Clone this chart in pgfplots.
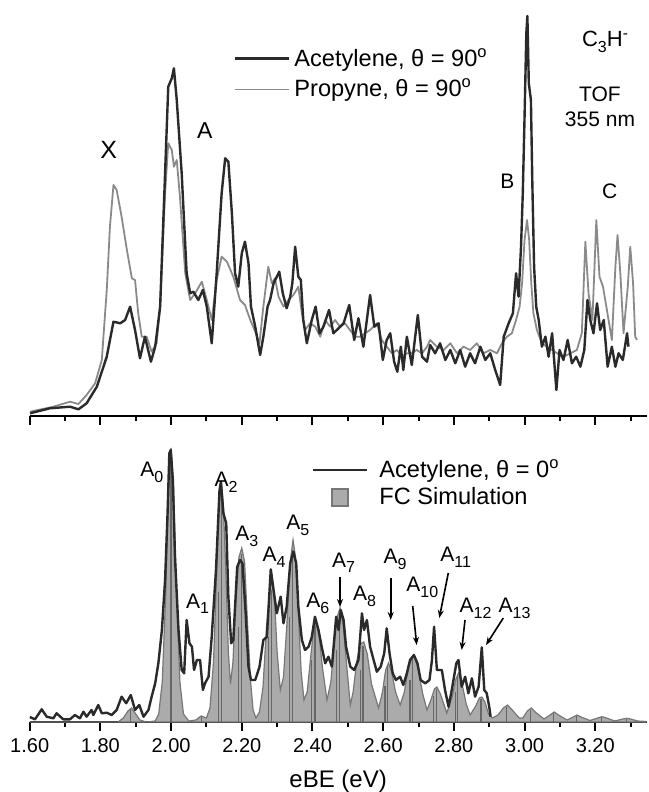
\documentclass[border=0pt]{standalone}
\usepackage{fontspec}
\setmainfont{Liberation Sans}
\usepackage{pgfplots}
\pgfplotsset{compat=1.18}
\usetikzlibrary{arrows.meta}
\definecolor{cDark}{HTML}{2A2A2A}
\definecolor{cLight}{HTML}{8A8A8A}
\definecolor{cFill}{HTML}{ABABAB}
\definecolor{cEdge}{HTML}{777777}
\definecolor{cStick}{HTML}{666666}

\pgfplotsset{
  spec/.style={
    scale only axis, width=308.4pt, xmin=1.6, xmax=3.345, ymin=0,
    axis x line*=bottom, axis y line=none,
    axis line style={line width=1pt,-},
    xtick={1.6,1.8,2.0,2.2,2.4,2.6,2.8,3.0,3.2},
    minor xtick={1.7,1.9,2.1,2.3,2.5,2.7,2.9,3.1,3.3},
    tick align=outside, major tick length=4.5pt, minor tick length=2.5pt,
    every tick/.style={line width=1pt,black},
    /pgf/number format/assume math mode=true,
  },
}
\tikzset{lab/.style={font=\fontsize{10.5}{12}\selectfont}}
\newcommand{\sub}[1]{\raisebox{-0.5ex}{\fontsize{8}{9}\selectfont #1}}

\begin{document}
\begin{tikzpicture}
\path[use as bounding box] (0,0) rectangle (324pt,396pt);

% upper panel: theta = 90
\begin{axis}[spec, at={(14.85pt,188pt)}, anchor=south west,
    height=208pt, ymax=416, xticklabels={}]
\addplot[cLight, line width=0.9pt, line join=round] table {
1.601 4.3
1.667 9.3
1.714 14.3
1.738 12
1.761 21
1.785 32.7
1.804 56
1.818 126
1.827 189.3
1.837 231
1.846 226
1.860 199.3
1.875 166
1.889 137.7
1.898 136
1.907 102.7
1.917 79.3
1.931 79.3
1.945 64.3
1.959 72.7
1.969 109.3
1.983 222.7
1.992 272.7
2.002 266
2.008 249.3
2.016 256
2.025 219.3
2.040 142.7
2.054 116
2.068 122.7
2.087 134.3
2.101 116
2.115 96
2.129 136
2.143 159.3
2.158 154.3
2.176 139.3
2.195 116
2.209 111
2.224 96
2.238 84.3
2.250 72.7
2.261 109.3
2.275 149.3
2.285 132.7
2.294 137.7
2.304 119.3
2.318 109.3
2.332 116
2.346 121
2.360 129.3
2.370 102.7
2.379 86
2.393 92.7
2.408 89.3
2.422 79.3
2.436 96
2.450 89.3
2.464 96
2.478 89.3
2.492 92.7
2.506 86
2.521 79.3
2.535 79.3
2.549 82.7
2.563 86
2.582 92.7
2.596 76
2.610 69.3
2.625 62.7
2.639 66
2.653 59.3
2.667 62.7
2.681 62.7
2.695 66
2.710 62.7
2.724 69.3
2.733 76
2.752 69.3
2.771 66
2.790 72.7
2.809 62.7
2.827 69.3
2.846 66
2.865 72.7
2.884 62.7
2.903 66
2.922 62.7
2.936 72.7
2.950 79.3
2.964 82.7
2.976 96
2.986 109.3
2.993 132.7
3.000 176
3.007 196
3.013 176
3.019 132.7
3.025 102.7
3.035 86
3.049 72.7
3.063 69.3
3.078 66
3.092 62.7
3.110 59.3
3.129 62.7
3.148 66
3.162 82.7
3.172 174.3
3.181 122.7
3.192 96
3.203 196
3.212 139.3
3.222 129.3
3.233 106
3.247 76
3.257 149.3
3.263 181
3.271 142.7
3.280 82.7
3.292 129.3
3.299 169.3
3.307 132.7
3.313 79.3
3.318 76
};
\addplot[cDark, line width=1.2pt, line join=round] table {
1.601 2.7
1.657 7.7
1.714 9.3
1.738 6.7
1.761 12.7
1.790 29.3
1.818 59.3
1.837 94.3
1.856 92.7
1.870 96
1.884 109.3
1.898 86
1.912 57.7
1.926 79.3
1.943 54.3
1.955 69.3
1.969 109.3
1.983 242.7
1.992 329.3
2.002 337.7
2.008 347.7
2.016 316
2.030 242.7
2.044 142.7
2.054 122.7
2.063 124.3
2.077 116
2.090 126
2.101 109.3
2.115 72.7
2.129 142.7
2.143 222.7
2.153 257.7
2.162 254.3
2.172 202.7
2.181 142.7
2.190 129.3
2.200 162.7
2.209 174.3
2.219 152.7
2.226 109.3
2.238 89.3
2.252 61
2.261 79.3
2.273 109.3
2.280 116
2.290 132.7
2.306 144.3
2.316 122.7
2.327 107.7
2.337 119.3
2.343 132.7
2.351 169.3
2.360 139.3
2.367 136
2.374 96
2.384 72.7
2.398 96
2.409 109.3
2.420 82.7
2.431 89.3
2.447 106
2.459 82.7
2.474 87.7
2.488 92.7
2.504 111
2.518 76
2.530 97.7
2.544 69.3
2.563 121
2.575 89.3
2.587 92.7
2.599 56
2.610 76
2.620 82.7
2.631 54.3
2.640 44.3
2.650 69.3
2.657 46
2.667 79.3
2.681 51
2.698 101
2.710 59.3
2.724 54.3
2.733 71
2.747 62.7
2.761 72.7
2.776 56
2.790 66
2.804 52.7
2.818 66
2.832 49.3
2.846 62.7
2.860 52.7
2.875 69.3
2.889 56
2.903 62.7
2.917 46
2.931 31
2.941 79.3
2.955 92.7
2.967 102.7
2.976 142.7
2.983 119.3
2.990 169.3
2.995 222.7
3.000 299.3
3.005 382.7
3.008 400
3.012 332.7
3.018 316
3.022 232.7
3.027 149.3
3.033 109.3
3.040 96
3.049 69.3
3.059 79.3
3.068 59.3
3.078 82.7
3.090 26
3.099 66
3.110 56
3.122 76
3.134 52.7
3.146 59.3
3.158 49.3
3.169 66
3.178 116
3.186 96
3.195 82.7
3.205 112.7
3.214 86
3.224 96
3.235 49.3
3.247 69.3
3.257 49.3
3.266 62.7
3.278 56
3.290 82.7
3.294 69.3
};
\end{axis}

% lower panel: theta = 0 and FC simulation
\begin{axis}[spec, at={(14.85pt,35pt)}, anchor=south west,
    height=140pt, ymax=280,
    xticklabel style={font=\fontsize{10}{12}\selectfont,
      /pgf/number format/.cd, fixed, fixed zerofill, precision=2},
    xlabel={eBE (eV)},
    xlabel style={font=\fontsize{12}{14}\selectfont, yshift=-2pt}]
\addplot[fill=cFill, draw=cEdge, line width=0.6pt] table {
1.600 0
1.850 0
1.865 4
1.878 11
1.888 14
1.898 9
1.912 2
1.930 0
1.955 1
1.965 8
1.975 40
1.985 130
1.993 235
2.000 274
2.007 235
2.015 130
2.025 40
2.035 8
2.050 1
2.070 2
2.085 6
2.100 4
2.110 14
2.120 60
2.130 160
2.136 215
2.142 240
2.148 215
2.155 150
2.162 70
2.168 38
2.175 60
2.183 120
2.192 165
2.200 174
2.208 160
2.216 100
2.225 40
2.232 12
2.240 4
2.250 10
2.260 35
2.270 95
2.280 135
2.286 140
2.293 120
2.300 70
2.309 32
2.318 45
2.328 100
2.337 160
2.345 182
2.352 165
2.360 110
2.368 50
2.376 22
2.385 30
2.395 65
2.403 92
2.410 100
2.418 90
2.428 55
2.441 22
2.452 40
2.462 80
2.470 105
2.478 114
2.486 100
2.496 60
2.507 17
2.515 30
2.525 60
2.535 78
2.545 80
2.555 68
2.567 38
2.587 14
2.598 30
2.607 52
2.615 59
2.624 50
2.635 30
2.648 17
2.660 30
2.672 55
2.686 67
2.698 55
2.712 28
2.724 12
2.735 22
2.745 33
2.752 35
2.762 28
2.780 9
2.795 25
2.805 42
2.813 49
2.822 40
2.835 18
2.846 7
2.862 16
2.872 24
2.879 25
2.888 20
2.898 8
2.909 4
2.925 7
2.940 14
2.952 17
2.965 12
2.985 4
2.995 4
3.008 11
3.019 14
3.030 10
3.055 3
3.072 7
3.084 10
3.096 7
3.120 2
3.138 5
3.148 7
3.160 5
3.185 1.5
3.207 4
3.219 5.3
3.232 4
3.255 1
3.278 3
3.290 3.7
3.300 3
3.320 1
3.345 0.5
} \closedcycle;
\addplot[ycomb, cStick, line width=0.6pt, mark=none] table {
1.885 13
2.000 262
2.085 5
2.133 130
2.142 228
2.190 95
2.200 168
2.275 85
2.283 132
2.335 105
2.343 172
2.398 62
2.407 96
2.468 72
2.476 108
2.535 52
2.543 76
2.605 36
2.613 56
2.676 42
2.684 63
2.742 26
2.750 33
2.805 30
2.811 46
2.877 23
2.950 15
3.017 12
3.083 9
3.147 6
3.218 5
3.288 3
};
\addplot[cDark, line width=1.2pt, line join=round] table {
1.600 5
1.615 2.7
1.634 12.7
1.648 5.3
1.667 3.7
1.676 8.7
1.695 2.7
1.714 2.7
1.728 7
1.742 3.7
1.752 10.3
1.761 5.3
1.775 12
1.780 7
1.794 17
1.804 8.7
1.818 9.3
1.832 7
1.846 12
1.860 25.3
1.873 18.7
1.886 27
1.898 12
1.910 17
1.922 5.3
1.936 12
1.945 25.3
1.955 38.7
1.964 58.7
1.974 92
1.983 142
1.990 208.7
1.995 268.7
1.999 272
2.005 242
2.011 165.3
2.021 92
2.030 52
2.037 48.7
2.044 102
2.052 78.7
2.059 75.3
2.065 52
2.073 62
2.082 62
2.090 32
2.096 38.7
2.106 45.3
2.115 85.3
2.127 152
2.137 232
2.141 240.3
2.148 208.7
2.156 198.7
2.162 125.3
2.170 78.7
2.176 82
2.187 155
2.195 162
2.202 158.7
2.211 108.7
2.219 55
2.226 42
2.238 42
2.250 55
2.261 82
2.271 85
2.282 152.7
2.290 132
2.299 108.7
2.310 125.3
2.318 98.7
2.327 115.3
2.337 158.7
2.346 170.3
2.354 158.7
2.360 115.3
2.370 82
2.379 72
2.389 75.3
2.398 85
2.407 105.3
2.417 92
2.426 75.3
2.436 58.7
2.445 65.3
2.455 55.3
2.467 105.3
2.474 92
2.480 112
2.488 102
2.495 75.3
2.507 55.3
2.518 52
2.530 62
2.540 108.7
2.546 92
2.554 102
2.563 75.3
2.573 62
2.582 50.3
2.593 55.3
2.603 68.7
2.610 93.7
2.618 68.7
2.627 48.7
2.636 42
2.648 45.3
2.657 37
2.667 48.7
2.676 62
2.687 67
2.697 58.7
2.706 42
2.719 38.7
2.731 42
2.738 62
2.744 95.3
2.752 52
2.766 52
2.775 32
2.785 15.3
2.794 32
2.807 58.7
2.813 62
2.822 35.3
2.832 45.3
2.841 28.7
2.851 43.7
2.860 25.3
2.870 35.3
2.879 74.7
2.886 32
2.893 28.7
2.900 15.3
2.904 5.3
};
\end{axis}

% annotations, in pixel units of the 648x792 frame
\begin{scope}[shift={(0pt,396pt)}, x=0.5pt, y=-0.5pt]
  % upper legend and labels
  \draw[cDark, line width=1.2pt] (235,58.5) -- (289,58.5);
  \node[anchor=base west, inner sep=0pt, font=\fontsize{11.8}{13}\selectfont] at (294,66.7)
    {Acetylene, θ = 90\textsuperscript{o}};
  \draw[cLight, line width=0.9pt] (235,89.5) -- (289,89.5);
  \node[anchor=base west, inner sep=0pt, font=\fontsize{11.8}{13}\selectfont] at (294,96.7)
    {Propyne, θ = 90\textsuperscript{o}};
  \node[anchor=base west, inner sep=0pt, font=\fontsize{12.5}{14}\selectfont] at (100,158.3) {X};
  \node[anchor=base west, inner sep=0pt, font=\fontsize{11.5}{13}\selectfont] at (196.7,138.3) {A};
  \node[anchor=base west, inner sep=0pt, font=\fontsize{10.5}{12}\selectfont] at (500,188.3) {B};
  \node[anchor=base west, inner sep=0pt, font=\fontsize{10.5}{12}\selectfont] at (601.7,198.3) {C};
  \node[anchor=base west, inner sep=0pt, font=\fontsize{11}{12}\selectfont] at (581.7,46.7)
    {C\sub{3}H\textsuperscript{-}};
  \node[anchor=base, inner sep=0pt, font=\fontsize{10.5}{12}\selectfont] at (600,101.7) {TOF};
  \node[anchor=base, inner sep=0pt, font=\fontsize{10.5}{12}\selectfont] at (600,126.7) {355 nm};
  % lower legend
  \draw[cDark, line width=1.2pt] (313,470) -- (367,470);
  \node[anchor=base west, inner sep=0pt, font=\fontsize{11.8}{13}\selectfont] at (379,477.3)
    {Acetylene, θ = 0\textsuperscript{o}};
  \filldraw[fill=cFill, draw=cEdge, line width=0.6pt] (332,489) rectangle (348,506);
  \node[anchor=base west, inner sep=0pt, font=\fontsize{11.8}{13}\selectfont] at (379,505)
    {FC Simulation};
  % progression labels
  \begin{scope}[every node/.style={anchor=base west, inner sep=0pt, lab}]
    \node at (140,476.5) {A\sub{0}};
    \node at (185.7,608.3) {A\sub{1}};
    \node at (214.3,486.7) {A\sub{2}};
    \node at (235,540.7) {A\sub{3}};
    \node at (262.3,561.7) {A\sub{4}};
    \node at (286,530) {A\sub{5}};
    \node at (306,607.7) {A\sub{6}};
    \node at (331.7,567.3) {A\sub{7}};
    \node at (352.7,600.7) {A\sub{8}};
    \node at (383.3,564) {A\sub{9}};
    \node at (406,591.7) {A\sub{10}};
    \node at (440,561.7) {A\sub{11}};
    \node at (459.3,612.7) {A\sub{12}};
    \node at (498.3,612.7) {A\sub{13}};
  \end{scope}
  \begin{scope}[-{Stealth[length=4pt,width=3pt]}, line width=0.8pt, black]
    \draw (340,577) -- (340,607);
    \draw (390.7,578) -- (390.7,620);
    \draw (412.7,606) -- (416.7,645);
    \draw (448.3,573) -- (439.3,618);
    \draw (465,620) -- (461.7,650);
    \draw (503.3,618) -- (486,645);
  \end{scope}
\end{scope}
\end{tikzpicture}
\end{document}
